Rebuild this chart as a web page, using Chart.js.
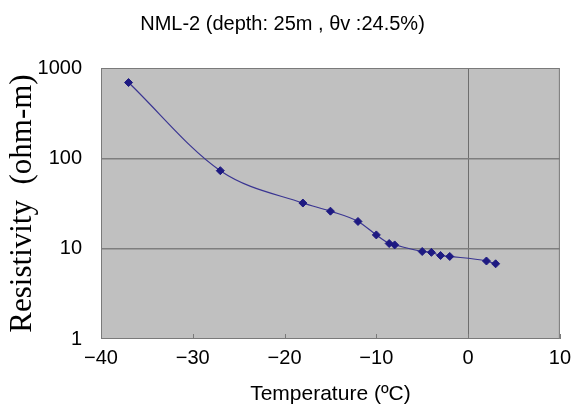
<!DOCTYPE html>
<html>
<head>
<meta charset="utf-8">
<script src="https://cdn.jsdelivr.net/npm/chart.js@4/dist/chart.umd.min.js"></script>
<style>
  html, body { margin: 0; padding: 0; background: #fff; }
  #wrap { width: 578px; height: 413px; }
</style>
</head>
<body>
<div id="wrap"><canvas id="chart1"></canvas></div>
<script>
// data
var temps = [-37, -27, -18, -15, -12, -10, -8.6, -8, -5, -4, -3, -2, 2, 3];
var resist = [690, 73, 32, 26, 20, 14.2, 11.4, 11.0, 9.3, 9.1, 8.4, 8.2, 7.3, 6.8];
var yTicks = [1, 10, 100, 1000];
var xTicks = [-40, -30, -20, -10, 0, 10];

var points = [];
for (var i = 0; i < temps.length; i++) {
    points.push({x: temps[i], y: resist[i]});
}

// gray plot box + inner tick marks, like the old excel chart
var plotBox = {
    id: 'plotBox',
    beforeDraw: function(chart) {
        var a = chart.chartArea, c = chart.ctx;
        c.save();
        c.fillStyle = '#c0c0c0';
        c.fillRect(a.left, a.top, a.right - a.left, a.bottom - a.top);
        c.restore();
    },
    afterDatasetsDraw: function(chart) {
        var a = chart.chartArea, c = chart.ctx;
        c.save();
        c.strokeStyle = '#7a7a7a';
        c.lineWidth = 1;
        c.strokeRect(a.left + 0.5, a.top + 0.5, a.right - a.left - 1, a.bottom - a.top - 1);
        var xs = chart.scales.x;
        c.beginPath();
        xTicks.forEach(function(v) {
            var px = Math.round(xs.getPixelForValue(v)) + 0.5;
            c.moveTo(px, a.bottom);
            c.lineTo(px, a.bottom - 5);
        });
        c.stroke();
        c.restore();
    }
};

new Chart(document.getElementById('chart1'), {
    type: 'scatter',
    data: {
        datasets: [{
            data: points,
            showLine: true,
            borderColor: '#3a3592',
            borderWidth: 1.2,
            tension: 0.4,
            cubicInterpolationMode: 'monotone',
            pointStyle: 'rectRot',
            pointRadius: 4,
            pointBackgroundColor: '#1e1a82',
            pointBorderColor: '#1e1a82',
            pointBorderWidth: 1
        }]
    },
    options: {
        responsive: true,
        maintainAspectRatio: false,
        animation: false,
        layout: { padding: { left: 0, right: 13, top: 0, bottom: 0 } },
        plugins: {
            legend: { display: false },
            tooltip: { enabled: false },
            title: {
                display: true,
                text: 'NML-2 (depth: 25m , \u03b8v :24.5%)',
                color: '#000',
                font: { family: 'Liberation Sans', size: 20, weight: 'normal' },
                padding: { top: 12, bottom: 32 }
            }
        },
        scales: {
            x: {
                type: 'linear',
                min: -40,
                max: 10,
                afterBuildTicks: function(scale) {
                    scale.ticks = xTicks.map(function(v) { return {value: v}; });
                },
                afterFit: function(scale) { scale.height = 74; },
                grid: {
                    drawTicks: false,
                    color: function(ctx) {
                        return ctx.tick && ctx.tick.value === 0 ? '#6e6e6e' : 'rgba(0,0,0,0)';
                    }
                },
                border: { display: false },
                ticks: {
                    color: '#000',
                    padding: 7,
                    font: { family: 'Liberation Sans', size: 20 },
                    callback: function(v) { return v < 0 ? '\u2212' + Math.abs(v) : String(v); }
                },
                title: {
                    display: true,
                    text: 'Temperature (\u00baC)',
                    color: '#000',
                    font: { family: 'Liberation Sans', size: 21 },
                    padding: { top: 4, bottom: 6 }
                }
            },
            y: {
                type: 'logarithmic',
                min: 1,
                max: 1000,
                afterBuildTicks: function(scale) {
                    scale.ticks = yTicks.map(function(v) { return {value: v}; });
                },
                afterFit: function(scale) { scale.width = 101; },
                grid: {
                    drawTicks: false,
                    color: function(ctx) {
                        var v = ctx.tick && ctx.tick.value;
                        return (v === 10 || v === 100) ? '#7e7e7e' : 'rgba(0,0,0,0)';
                    },
                    lineWidth: 1.5
                },
                border: { display: false },
                ticks: {
                    color: '#000',
                    padding: 19,
                    font: { family: 'Liberation Sans', size: 20 },
                    callback: function(v) { return String(v); }
                },
                title: {
                    display: true,
                    text: 'Resistivity  (ohm-m)',
                    color: '#000',
                    font: { family: 'Liberation Serif', size: 31 },
                    padding: { top: 4, bottom: 0 }
                }
            }
        }
    },
    plugins: [plotBox]
});
</script>
</body>
</html>
